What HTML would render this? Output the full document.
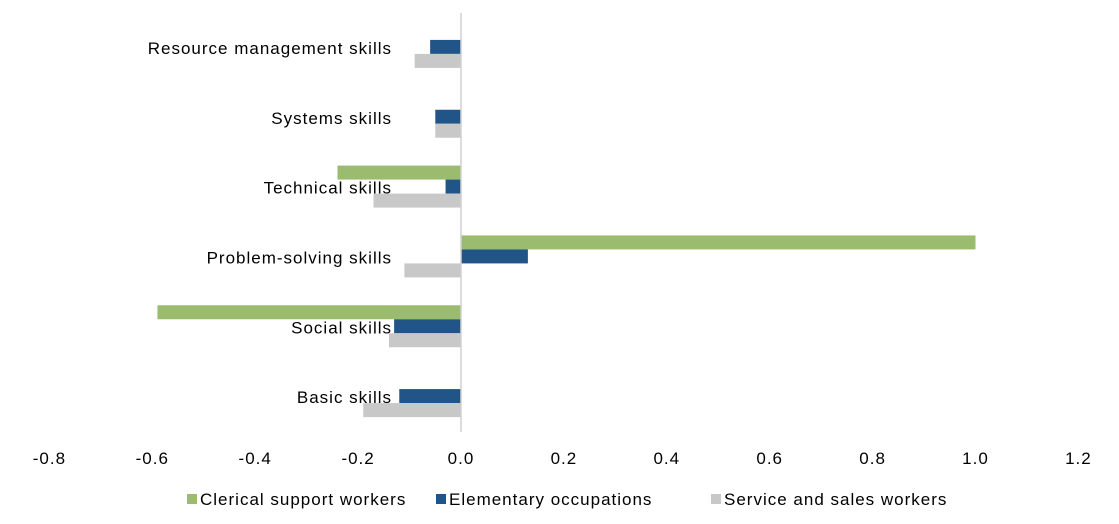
<!DOCTYPE html>
<html><head><meta charset="utf-8"><style>
body{margin:0;background:#fff;}
svg{display:block;font-family:"Liberation Sans",sans-serif;}
</style></head><body>
<svg id="chart" width="1119" height="524"></svg>
<script>
const categories=["Resource management skills","Systems skills","Technical skills","Problem-solving skills","Social skills","Basic skills"];
const clerical=[0,0,-0.24,1.0,-0.59,0];
const elementary=[-0.06,-0.05,-0.03,0.13,-0.13,-0.12];
const service=[-0.09,-0.05,-0.17,-0.11,-0.14,-0.19];
const ticks=[-0.8,-0.6,-0.4,-0.2,0,0.2,0.4,0.6,0.8,1.0,1.2];
const seriesNames=["Clerical support workers","Elementary occupations","Service and sales workers"];
const colors=["#9BBB6F","#215587","#C8C8C8"];
const svg=document.getElementById('chart');
const NS="http://www.w3.org/2000/svg";
const xs=v=>461+v*514.5;
const plotTop=13,plotBot=432,band=(plotBot-plotTop)/categories.length,bh=14;
function el(t,a,txt){const e=document.createElementNS(NS,t);for(const k in a)e.setAttribute(k,a[k]);if(txt!==undefined)e.textContent=txt;svg.appendChild(e);return e;}
const all=[clerical,elementary,service];
categories.forEach((c,i)=>{
  const cy=plotTop+band*(i+0.5)-1;
  all.forEach((s,j)=>{
    const v=s[i];const y=cy-1.5*bh+j*bh;
    const r=el('rect',{x:Math.min(xs(0),xs(v)),y:y,width:Math.abs(xs(v)-xs(0)),height:bh,fill:colors[j]});
    
    
  });
});
const zl=el('line',{x1:xs(0),x2:xs(0),y1:plotTop,y2:plotBot,stroke:'#d0d0d0','stroke-width':1.5});


categories.forEach((c,i)=>{
  const t=el('text',{x:392,y:plotTop+band*(i+0.5)+6,'text-anchor':'end','font-size':17,'letter-spacing':'1px',fill:'#000'},c);
  
  
});
ticks.forEach(v=>{
  const t=el('text',{x:xs(v),y:464,'text-anchor':'middle','font-size':17,'letter-spacing':'1px',fill:'#000'},v.toFixed(1));
  
  
});
const lx=[187,436,711];
seriesNames.forEach((n,j)=>{
  const r=el('rect',{x:lx[j],y:494,width:10,height:10,fill:colors[j]});
  
  
  const t=el('text',{x:lx[j]+13,y:505,'font-size':17,'letter-spacing':'1px',fill:'#000'},n);
  
  
});
</script>
</body></html>
